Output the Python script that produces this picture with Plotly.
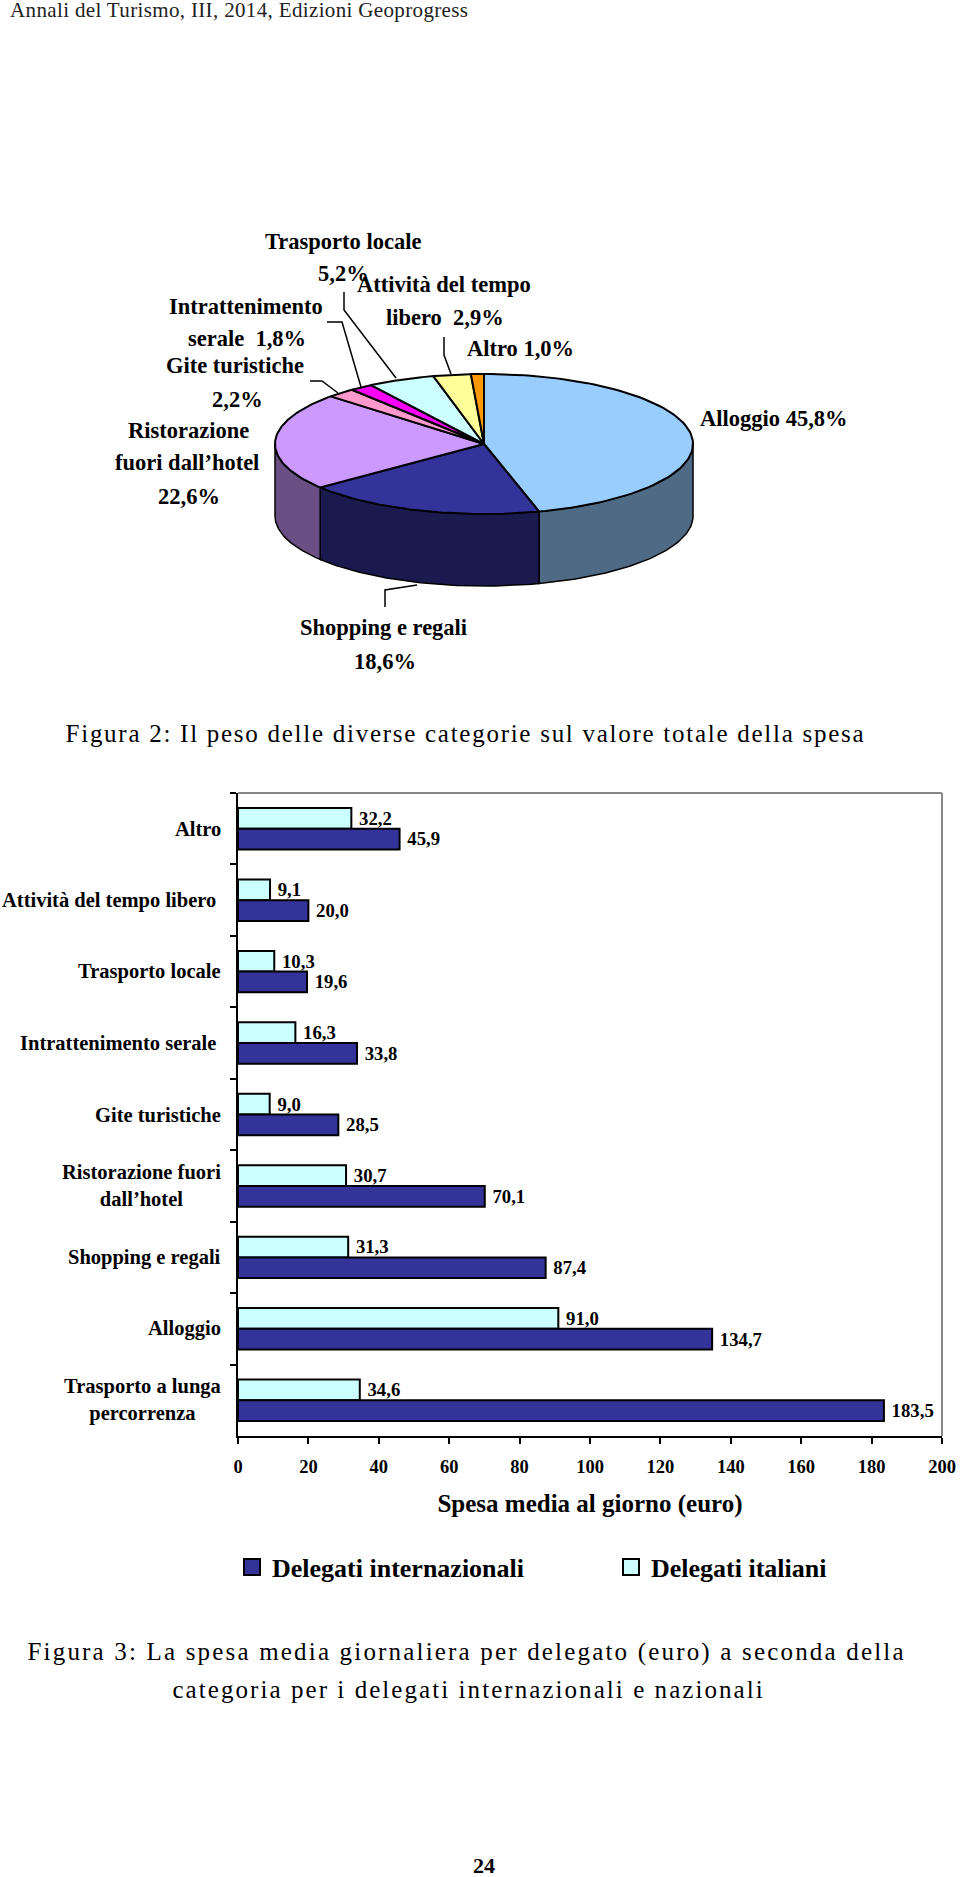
import numpy as np
import plotly.graph_objects as go

# ---------- data ----------
pie_categories = ["Alloggio", "Shopping e regali", "Ristorazione fuori dall'hotel", "Gite turistiche",
                  "Intrattenimento serale", "Trasporto locale", "Attività del tempo libero", "Altro"]
pie_shares = [45.8, 18.6, 22.6, 2.2, 1.8, 5.2, 2.9, 1.0]
pie_colors = ["#99CCFF", "#333399", "#CC99FF", "#FF99CC", "#FF00FF", "#CCFFFF", "#FFFF99", "#FF9900"]

bar_categories = ["Altro", "Attività del tempo libero", "Trasporto locale", "Intrattenimento serale",
                  "Gite turistiche", "Ristorazione fuori dall’hotel", "Shopping e regali", "Alloggio",
                  "Trasporto a lunga percorrenza"]
delegati_italiani = [32.2, 9.1, 10.3, 16.3, 9.0, 30.7, 31.3, 91.0, 34.6]
delegati_internazionali = [45.9, 20.0, 19.6, 33.8, 28.5, 70.1, 87.4, 134.7, 183.5]

SERIF = "Liberation Serif"
W, H = 960, 1877
# ---------- layout constants ----------
CX, CY, RX, RY, DEPTH = 484, 444, 209, 70, 72
PL, PR, PT, PB = 238, 942, 793, 1436

fig = go.Figure()


def ell(t):
    return CX + RX * np.sin(t), CY - RY * np.cos(t)


def darker(hexc, f=0.52):
    r, g, b = (int(hexc[i:i + 2], 16) for i in (1, 3, 5))
    return f"rgb({int(r*f)},{int(g*f)},{int(b*f)})"


fr = np.cumsum([0] + pie_shares) / sum(pie_shares) * 2 * np.pi
# side walls
for i, c in enumerate(pie_colors):
    a, b = max(fr[i], np.pi / 2), min(fr[i + 1], 3 * np.pi / 2)
    if a >= b:
        continue
    t = np.linspace(a, b, 60)
    x, y = ell(t)
    px = np.r_[x, x[::-1], x[0]]
    py = np.r_[y, y[::-1] + DEPTH, y[0]]
    fig.add_trace(go.Scatter(x=px, y=py, xaxis="x2", yaxis="y2", mode="lines", fill="toself",
                             fillcolor=darker(c), line=dict(color="black", width=1.5),
                             showlegend=False, hoverinfo="skip"))
# top slices
for i, c in enumerate(pie_colors):
    t = np.linspace(fr[i], fr[i + 1], 90)
    x, y = ell(t)
    fig.add_trace(go.Scatter(x=np.r_[CX, x, CX], y=np.r_[CY, y, CY], xaxis="x2", yaxis="y2",
                             mode="lines", fill="toself", fillcolor=c,
                             line=dict(color="black", width=2), name=pie_categories[i],
                             showlegend=False, hoverinfo="name"))

# leader lines
leaders = [
    ([344, 344, 396], [292, 310, 378]),
    ([327, 342, 361], [322, 322, 387]),
    ([310, 322, 338], [381, 381, 393]),
    ([444, 444, 451], [337, 355, 374]),
    ([385, 385, 417], [607, 590, 585]),
]
for lx, ly in leaders:
    fig.add_trace(go.Scatter(x=lx, y=ly, xaxis="x2", yaxis="y2", mode="lines",
                             line=dict(color="black", width=1.5), showlegend=False, hoverinfo="skip"))

# bars
fig.add_trace(go.Bar(y=bar_categories, x=delegati_italiani, orientation="h", name="Delegati italiani",
                     marker=dict(color="#CCFFFF", line=dict(color="black", width=2)),
                     texttemplate="\u00a0<b>%{x:.1f}</b>", textposition="outside", cliponaxis=False,
                     textfont=dict(family=SERIF, size=19, color="black"),
                     showlegend=False))
fig.add_trace(go.Bar(y=bar_categories, x=delegati_internazionali, orientation="h",
                     name="Delegati internazionali",
                     marker=dict(color="#333399", line=dict(color="black", width=2)),
                     texttemplate="\u00a0<b>%{x:.1f}</b>", textposition="outside", cliponaxis=False,
                     textfont=dict(family=SERIF, size=19, color="black"),
                     showlegend=False))
# legend entries
fig.add_trace(go.Scatter(x=[None], y=[None], xaxis="x2", yaxis="y2", mode="markers", name="<b>Delegati internazionali</b>",
                         marker=dict(symbol="square", size=16, color="#333399", line=dict(color="black", width=2))))
fig.add_trace(go.Scatter(x=[None], y=[None], xaxis="x2", yaxis="y2", mode="markers", name="<b>Delegati italiani</b>",
                         marker=dict(symbol="square", size=16, color="#CCFFFF", line=dict(color="black", width=2))))

ann = []


def text(x, y, s, size, bold=False, anchor="center", color="black"):
    ann.append(dict(xref="x2", yref="y2", x=x, y=y, text=f"<b>{s}</b>" if bold else s, showarrow=False,
                    xanchor=anchor, yanchor="middle", font=dict(family=SERIF, size=size, color=color)))


# pie labels
for x, y, s in [
    (343, 241, "Trasporto locale"), (343, 273, "5,2%"),
    (444, 284, "Attività del tempo"), (445, 317, "libero  2,9%"),
    (246, 306, "Intrattenimento"), (247, 338, "serale  1,8%"),
    (235, 365, "Gite turistiche"), (237, 399, "2,2%"),
    (188, 430, "Ristorazione"), (187, 462, "fuori dall’hotel"), (189, 496, "22,6%"),
    (520, 348, "Altro 1,0%"), (774, 418, "Alloggio 45,8%"),
    (383, 627, "Shopping e regali"), (385, 661, "18,6%"),
]:
    text(x, y, s, 22.5, bold=True)

# page text
text(239, 10, "Annali del Turismo, III, 2014, Edizioni Geoprogress", 21, color="#222222")
text(465, 733, "Figura 2: Il peso delle diverse categorie sul valore totale della spesa", 25)
text(466, 1652, "Figura 3: La spesa media giornaliera per delegato (euro) a seconda della", 25)
text(468, 1689, "categoria per i delegati internazionali e nazionali", 25)
text(484, 1865, "24", 22, bold=True)

# category labels
cat_lines = {
    "Ristorazione fuori dall’hotel": "Ristorazione fuori<br>dall’hotel",
    "Trasporto a lunga percorrenza": "Trasporto a lunga<br>percorrenza",
}
cat_inset = {"Attività del tempo libero": 5, "Intrattenimento serale": 5}
for c in bar_categories:
    ann.append(dict(xref="paper", yref="y", x=(223 - cat_inset.get(c, 0)) / W, y=c, xanchor="right", yanchor="middle",
                    showarrow=False, align="center", text=f"<b>{cat_lines.get(c, c)}</b>",
                    font=dict(family=SERIF, size=20.5, color="black")))

fig.update_layout(
    width=W, height=H, margin=dict(l=0, r=0, t=0, b=0, autoexpand=False), paper_bgcolor="white",
    plot_bgcolor="rgba(0,0,0,0)",
    separators=",.", barmode="group", bargap=0.42, bargroupgap=0,
    xaxis=dict(domain=[PL / W, PR / W], range=[0, 200], dtick=20, ticks="outside", ticklen=6, tickwidth=2,
               tickcolor="black", showline=True, linecolor="black", linewidth=2, showgrid=False, zeroline=False,
               tickfont=dict(family=SERIF, size=18.5, color="black"), tickprefix="<b>", ticksuffix="</b>",
               ticklabelstandoff=7,
               title=dict(text="<b>Spesa media al giorno (euro)</b>", standoff=18,
                          font=dict(family=SERIF, size=25, color="black")), anchor="y", automargin=False),
    yaxis=dict(domain=[1 - PB / H, 1 - PT / H], autorange="reversed", type="category", ticks="outside", ticklen=6,
               tickwidth=2, tickcolor="black", tickson="boundaries", showline=True, linecolor="black", linewidth=2,
               showticklabels=False, showgrid=False, anchor="x"),
    xaxis2=dict(domain=[0, 1], range=[0, W], visible=False, anchor="y2", fixedrange=True),
    yaxis2=dict(domain=[0, 1], range=[H, 0], visible=False, anchor="x2", fixedrange=True),
    legend=dict(orientation="h", x=232 / W, y=1 - 1567 / H, xanchor="left", yanchor="middle", entrywidth=334,
                entrywidthmode="pixels", itemsizing="trace",
                font=dict(family=SERIF, size=26, color="black"), bgcolor="rgba(0,0,0,0)"),
    annotations=ann,
    shapes=[
        dict(type="line", xref="x domain", yref="y domain", x0=0, x1=1, y0=1, y1=1, line=dict(color="#888888", width=2)),
        dict(type="line", xref="x domain", yref="y domain", x0=1, x1=1, y0=0, y1=1, line=dict(color="#888888", width=2)),
    ],
)
post = """
document.body.style.margin='0';
var spacing=[['Annali',0.35],['Figura 2',1.73],['Figura 3',2.18],['categoria per',2.06]];
document.querySelectorAll('.annotation-text').forEach(function(t){
  spacing.forEach(function(p){ if(t.textContent.indexOf(p[0])===0){t.style.letterSpacing=p[1]+'px';} });
});
"""
fig.write_html("out.html", post_script=post, config={"displayModeBar": False})
